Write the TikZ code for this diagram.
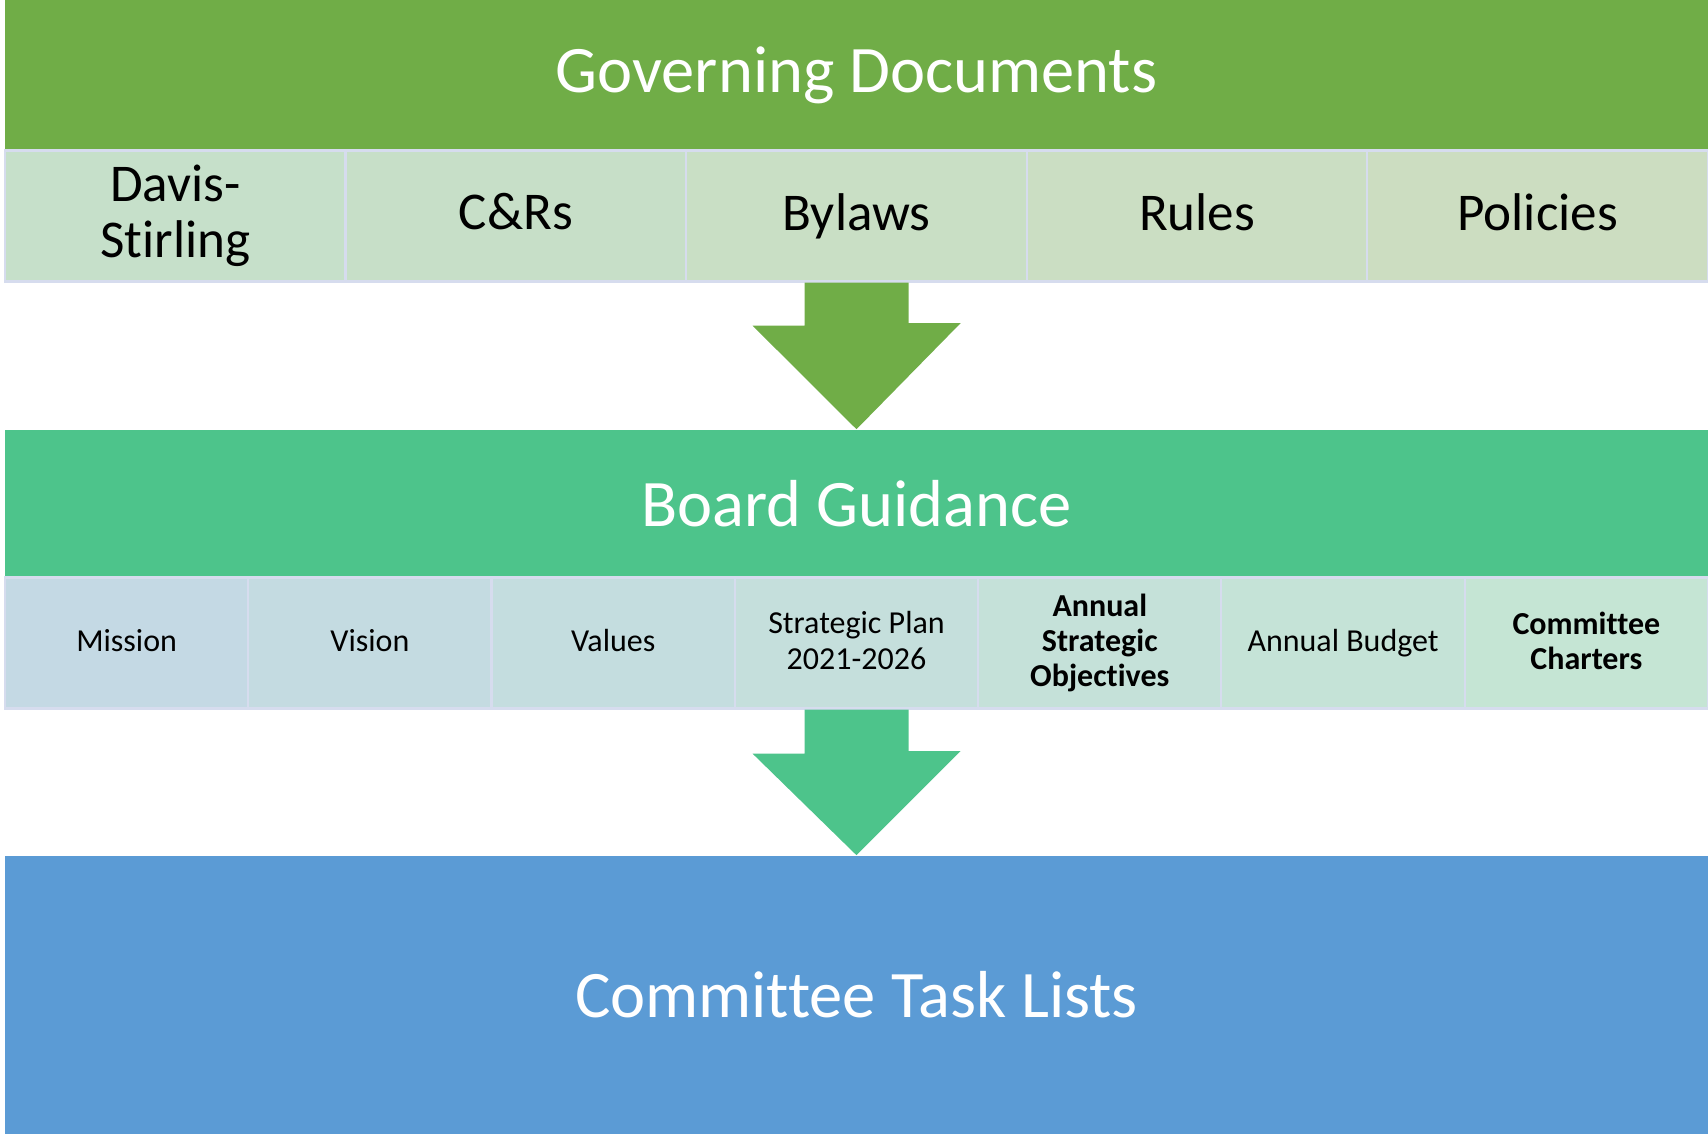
\documentclass[tikz,border=0pt]{standalone}
\usepackage{fontspec}
\setmainfont{Carlito}[Ligatures=NoCommon]
\usetikzlibrary{calc}

\definecolor{govgreen}{HTML}{70AD47}
\definecolor{brdgreen}{HTML}{4DC48B}
\definecolor{taskblue}{HTML}{5B9BD5}
\definecolor{docleft}{HTML}{C6E0CA}
\definecolor{docright}{HTML}{CCDDC1}
\definecolor{guideleft}{HTML}{C4D9E4}
\definecolor{guideright}{HTML}{C5E5D4}
\definecolor{cellline}{HTML}{D6DCEE}

\begin{document}
\begin{tikzpicture}[x=0.01cm, y=-0.01cm,
  band/.style={minimum width=17.03cm, inner sep=0pt, text=white, font=\fontsize{18.9}{22}\selectfont},
  doc/.style={draw=cellline, line width=0.6pt, minimum width=3.406cm, minimum height=1.31cm, inner sep=0pt, align=center, font=\fontsize{15.1}{15.8}\selectfont},
  guide/.style={draw=cellline, line width=0.6pt, minimum width=2.433cm, minimum height=1.31cm, inner sep=0pt, align=center, font=\fontsize{9.1}{10}\selectfont},
  plain/.style={}, strong/.style={font=\fontsize{9.1}{10}\selectfont\bfseries}]
\useasboundingbox (0,0) rectangle (1708,1134);

\node[band, fill=govgreen, minimum height=1.5cm] (gov) at (856.5,75) {Governing Documents};
\node[band, fill=brdgreen, minimum height=1.47cm] (brd) at (856.5,503.5) {Board Guidance};
\node[band, fill=taskblue, minimum height=2.78cm] (task) at (856.5,995) {Committee Task Lists};

\foreach \t [count=\i, evaluate=\i as \p using int(100-25*(\i-1))] in {{Davis-\\Stirling}, C\&Rs, Bylaws, Rules, Policies}
  \node[doc, fill=docleft!\p!docright] (d\i) at ({5+340.6*(\i-0.5)},216) {\t\vphantom{Ay}};

\foreach \t/\s [count=\i, evaluate=\i as \p using int(100-100*(\i-1)/6)] in {Mission/plain, Vision/plain, Values/plain, {Strategic Plan\\2021-2026}/plain, {Annual\\Strategic\\Objectives}/strong, Annual Budget/plain, {Committee\\Charters}/strong}
  \node[guide, \s, fill=guideleft!\p!guideright] (g\i) at ({5+243.29*(\i-0.5)},643) {\t\vphantom{Ay}};

\fill[govgreen] ($(d3.south)+(-52,0)$) -- ++(0,43) -- ++(-52,0) -- (brd.north) -- ++(104,-106) -- ++(-52,0) -- ($(d3.south)+(52,0)$) -- cycle;
\fill[brdgreen] ($(g4.south)+(-52,0)$) -- ++(0,44) -- ++(-52,0) -- (task.north) -- ++(104,-104) -- ++(-52,0) -- ($(g4.south)+(52,0)$) -- cycle;

\end{tikzpicture}
\end{document}
